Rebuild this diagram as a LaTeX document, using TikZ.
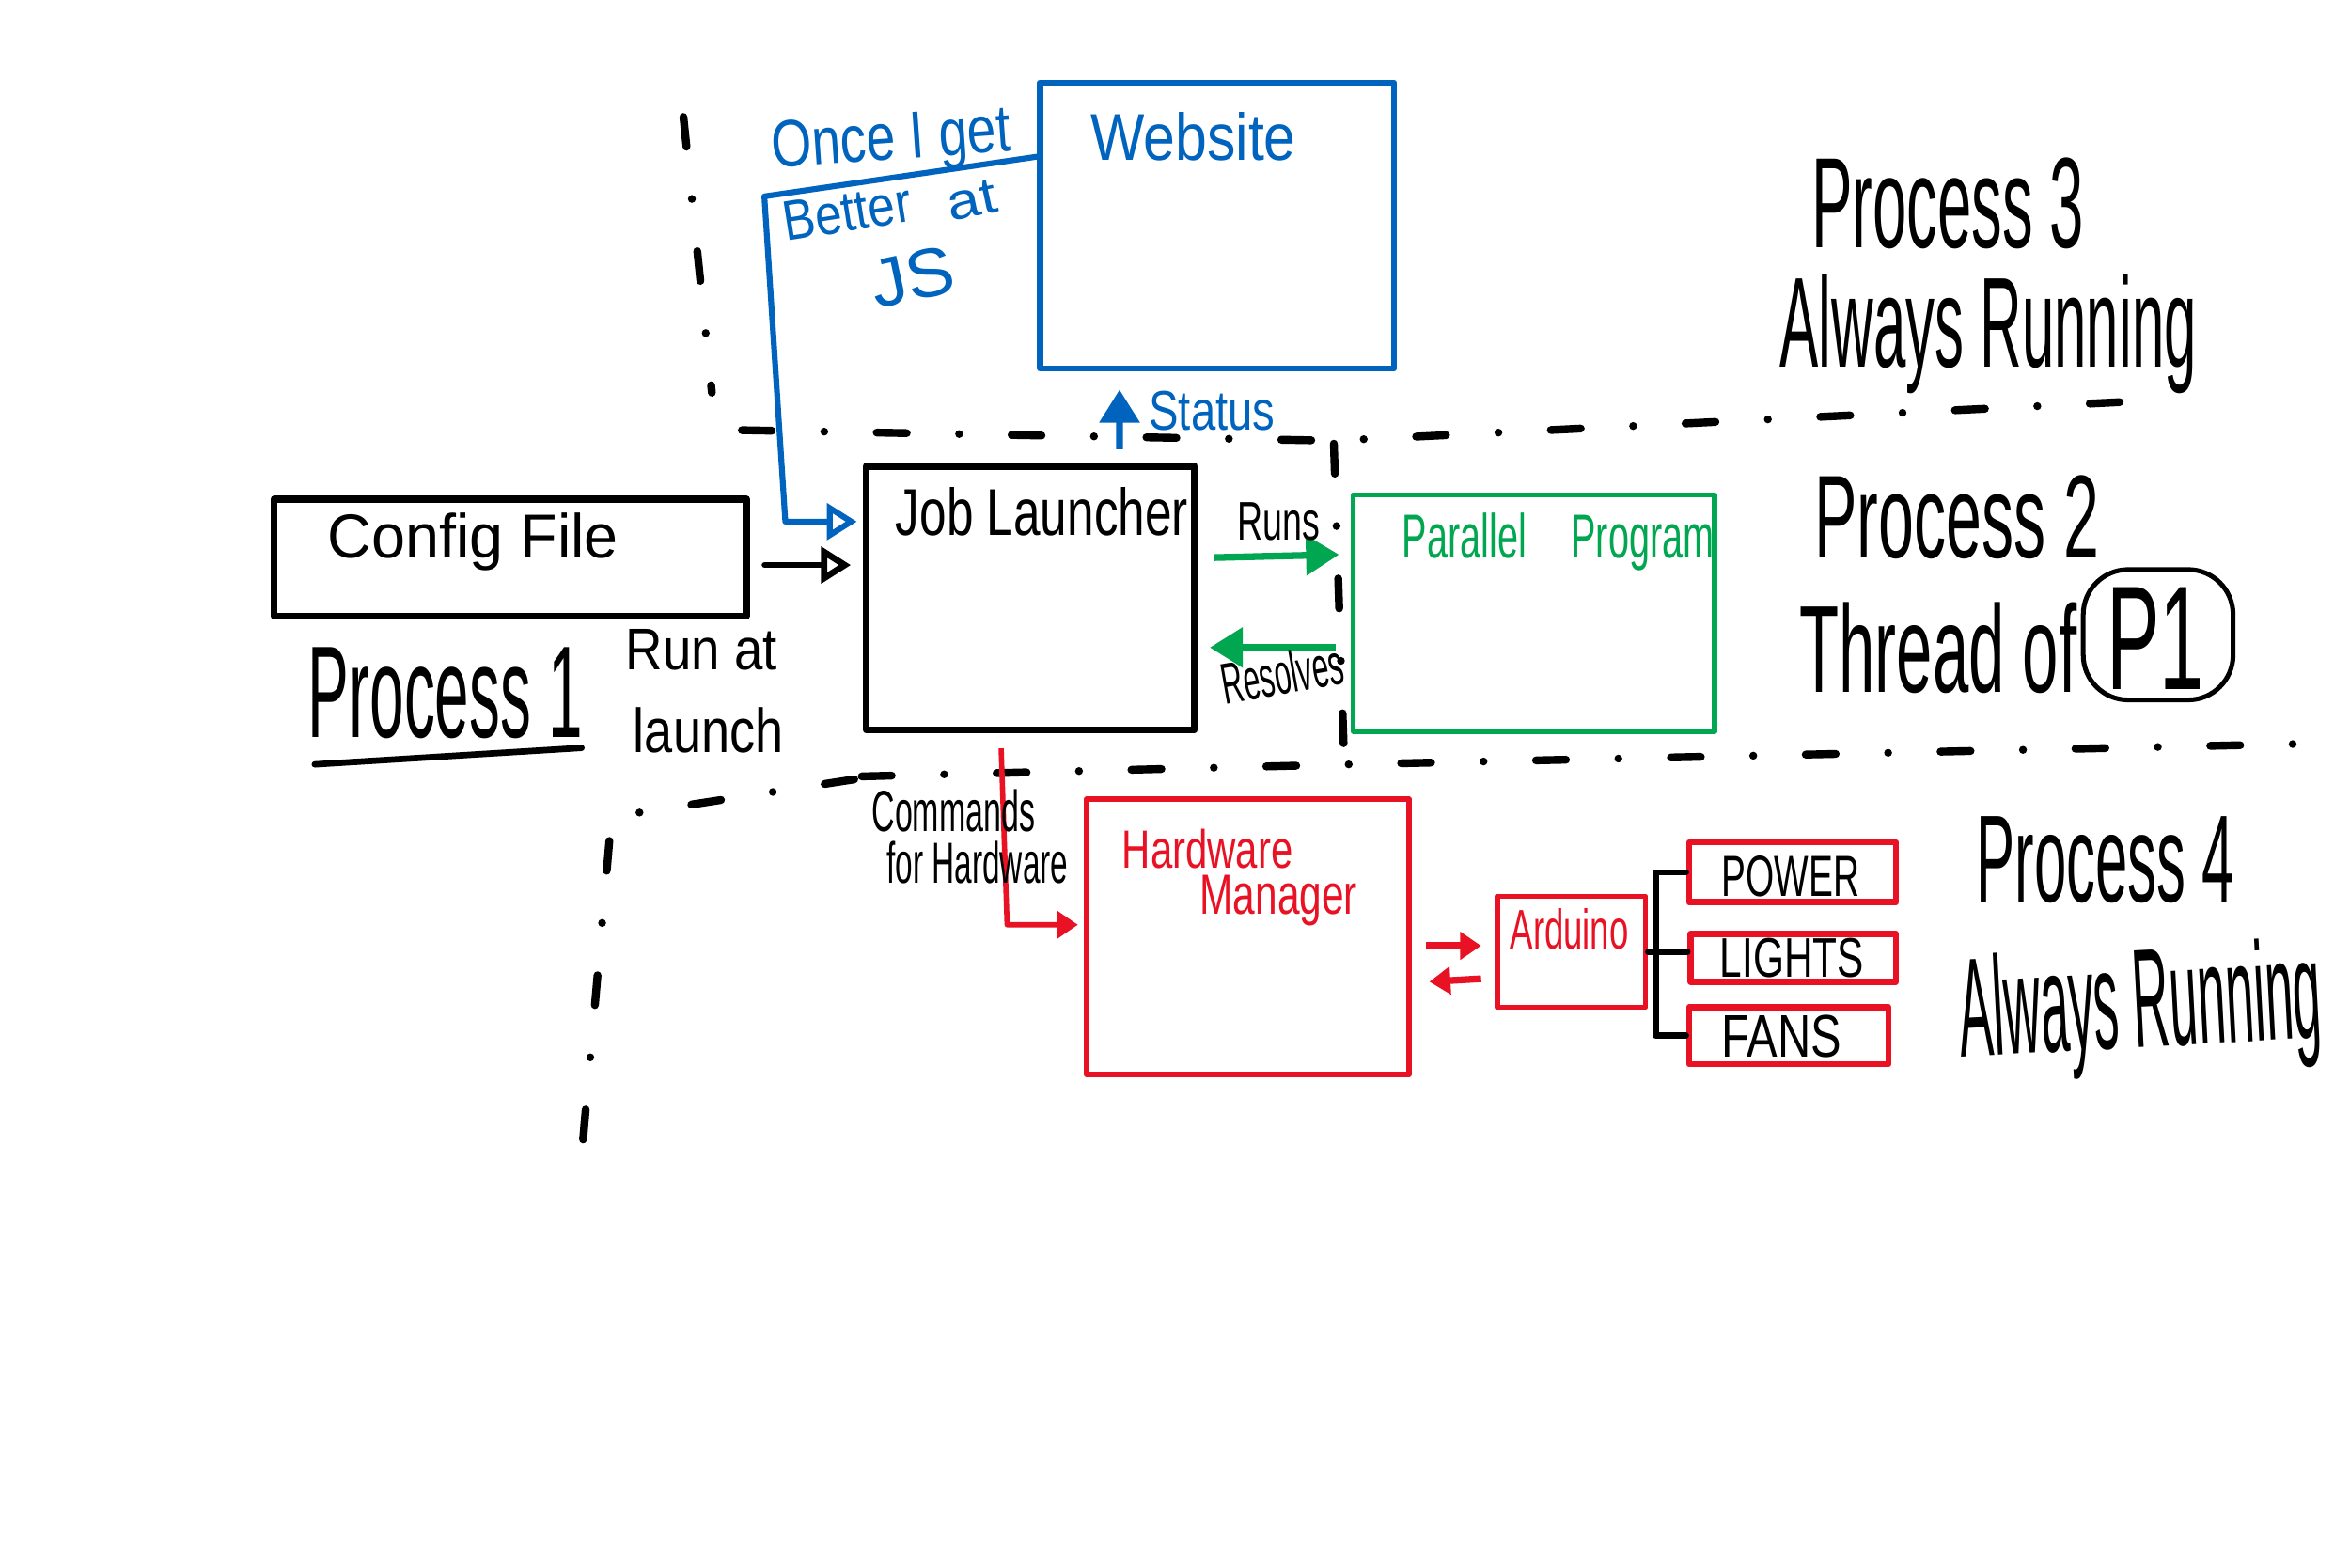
\documentclass[tikz,border=0pt]{standalone}
\usepackage{fontspec}
\setmainfont[FakeStretch=0.5]{Liberation Sans}
\usepackage{graphicx}
\usetikzlibrary{arrows.meta,calc}
\definecolor{inkblue}{RGB}{0,99,190}
\definecolor{inkgreen}{RGB}{0,166,80}
\definecolor{inkred}{RGB}{232,18,36}
\newcommand\hw[3]{\resizebox{#1mm}{#2mm}{#3}}
\begin{document}
\begin{tikzpicture}[x=0.1mm,y=-0.1mm,
  ink/.style={line width=1.2pt, line cap=round, line join=round},
  box/.style={draw, rectangle, inner sep=0pt, line join=round},
  lbl/.style={anchor=base west, inner sep=0pt},
  divider/.style={line width=1.5pt, line cap=round, dash pattern=on 2mm off 3.5mm on 0pt off 3.5mm},
  openhead/.style={-{Triangle[open,length=2mm,width=2.4mm]}},
  fillhead/.style={-{Triangle[length=2.2mm,width=2.6mm]}},
  smallhead/.style={-{Triangle[length=1.4mm,width=1.8mm]}},
]
\useasboundingbox (0,0) rectangle (1568,1046);
\fill[white] (0,0) rectangle (1568,1046);

% boxes
\node[box, line width=1.3pt, minimum width=31.5mm, minimum height=7.8mm] (cfg) at (340.5,372) {};
\node[box, line width=1.3pt, minimum width=21.9mm, minimum height=17.6mm] (jl) at (687.5,399) {};
\node[box, draw=inkblue, line width=1.1pt, minimum width=23.6mm, minimum height=19.1mm] (web) at (812,150.5) {};
\node[box, draw=inkgreen, line width=0.9pt, minimum width=24.1mm, minimum height=15.8mm] (par) at (1023.5,409) {};
\node[box, draw=inkred, line width=1.0pt, minimum width=21.5mm, minimum height=18.4mm] (hm) at (832.5,625) {};
\node[box, draw=inkred, line width=1.0pt, minimum width=9.9mm, minimum height=7.4mm] (ard) at (1048.5,635) {};
\node[box, draw=inkred, line width=1.2pt, minimum width=13.8mm, minimum height=4mm] (power) at (1196,582) {};
\node[box, draw=inkred, line width=1.2pt, minimum width=13.7mm, minimum height=3.2mm] (lights) at (1196.5,639) {};
\node[box, draw=inkred, line width=1.2pt, minimum width=13.3mm, minimum height=3.8mm] (fans) at (1193.5,691) {};
\node[box, line width=0.9pt, rounded corners=3mm, minimum width=10mm, minimum height=8.7mm] (p1box) at (1440,423.5) {};

% dividers
\draw[divider] (495,287) -- (890,294) -- (1420,268);
\draw[divider] (890,296) -- (897,512);
\draw[divider] (575,518) -- (900,510) -- (1550,496);
\draw[divider] (456,78) -- (475,262);
\draw[divider] (570,520) -- (408,545) -- (386,795);

% connectors
\draw[ink, openhead] ($(cfg.east)+(10,5)$) -- ($(jl.west)+(-8,-22)$);
\coordinate (b1) at (510,131);
\coordinate (b2) at (524,348);
\draw[inkblue, line width=1.1pt, line join=round, openhead] ($(web.west)+(0,-46)$) -- (b1) -- (b2) -- ($(jl.west)+(-4,-51)$);
\draw[inkblue, line width=1.3pt, fillhead] ($(jl.north)+(59.5,-9)$) -- ($(web.south)+(-65,12)$);
\draw[inkgreen, line width=1.3pt, fillhead] ($(jl.east)+(11,-27)$) -- ($(par.west)+(-8,-39)$);
\draw[inkgreen, line width=1.3pt, fillhead] ($(par.west)+(-10,23)$) -- ($(jl.east)+(8,33)$);
\coordinate (c1) at (672,617);
\draw[inkred, line width=1.0pt, line join=round, smallhead] ($(jl.south)+(-19.5,10)$) -- (c1) -- ($(hm.west)+(-4,-8)$);
\draw[inkred, line width=1.3pt, smallhead] ($(hm.east)+(10,6)$) -- ($(ard.west)+(-9,-4)$);
\draw[inkred, line width=1.3pt, smallhead] ($(ard.west)+(-9,18)$) -- ($(hm.east)+(12,30)$);
\draw[ink] (ard.east) -- ($(lights.west)+(0,-4)$);
\draw[ink] (power.west) -- ++(-20,0) |- (fans.west);

% underline
\draw[ink] (210,510) -- (388,499);

% texts
\node[lbl] (tcfg) at (218,372) {\hw{19.4}{3.0}{Config File}};
\node[lbl] (tjl) at (597,357) {\hw{19.5}{3.2}{Job Launcher}};
\node[lbl] (tp1) at (205,492) {\hw{18.3}{6.0}{Process 1}};
\node[lbl] (trun) at (417,447) {\hw{10.1}{2.7}{Run at}};
\node[lbl] (tlaunch) at (422,502) {\hw{10.0}{3.0}{launch}};
\node[lbl, text=inkblue] (tweb) at (727,107) {\hw{13.7}{3.2}{Website}};
\node[lbl, text=inkblue] (tstatus) at (766,287) {\hw{8.4}{2.6}{Status}};
\node[lbl, text=inkblue, rotate=4] (tonce) at (515,112) {\hw{16.0}{3.1}{Once I get}};
\node[lbl, text=inkblue, rotate=9] (tbetter) at (524,161) {\hw{8.6}{2.6}{Better}};
\node[lbl, text=inkblue, rotate=12] (tat) at (634,148) {\hw{3.3}{2.2}{at}};
\node[lbl, text=inkblue, rotate=12] (tjs) at (584,206) {\hw{5.6}{3.2}{JS}};
\node[lbl] (truns) at (825,360) {\hw{5.5}{2.5}{Runs}};
\node[lbl, rotate=10] (tres) at (817,470) {\hw{8.2}{2.8}{Resolves}};
\node[lbl, text=inkgreen] (tpar) at (935,372) {\hw{20.8}{3.0}{Parallel\hspace{0.6em}Program}};
\node[lbl] (tproc3) at (1208,165) {\hw{18.2}{6.0}{Process 3}};
\node[lbl] (talw3) at (1187,245) {\hw{27.8}{6.2}{Always Running}};
\node[lbl] (tproc2) at (1210,372) {\hw{19.0}{5.5}{Process 2}};
\node[lbl] (tthread) at (1200,462) {\hw{18.5}{6.0}{Thread of}};
\node[lbl] (tP1) at (1405,460) {\hw{6.5}{6.8}{P1}};
\node[lbl] (tcmd) at (581,555) {\hw{10.9}{2.8}{Commands}};
\node[lbl] (tfor) at (591,589) {\hw{12.1}{2.8}{for Hardware}};
\node[lbl, text=inkred] (thw) at (748,579) {\hw{11.4}{2.6}{Hardware}};
\node[lbl, text=inkred] (tman) at (800,610) {\hw{10.5}{2.6}{Manager}};
\node[lbl, text=inkred] (tard) at (1007,633) {\hw{7.9}{2.7}{Arduino}};
\node[lbl] (tpow) at (1148,598) {\hw{9.2}{2.7}{POWER}};
\node[lbl] (tlig) at (1147,652) {\hw{9.6}{2.6}{LIGHTS}};
\node[lbl] (tfan) at (1148,705) {\hw{8.0}{2.8}{FANS}};
\node[lbl] (tproc4) at (1318,602) {\hw{17.2}{5.7}{Process 4}};
\node[lbl, rotate=3] (talw4) at (1308,705) {\hw{24.2}{6.8}{Always Running}};
\end{tikzpicture}
\end{document}
